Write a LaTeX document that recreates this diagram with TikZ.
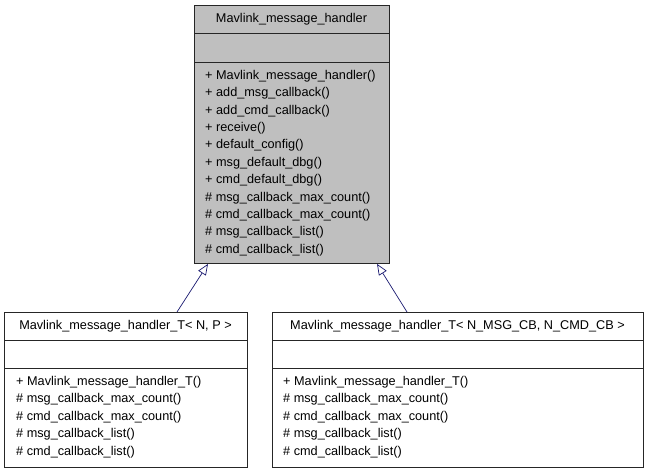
\documentclass[tikz,border=0pt]{standalone}
\usepackage{fontspec}
\setmainfont{Liberation Sans}
\usetikzlibrary{arrows.meta}
\definecolor{edgeblue}{HTML}{191970}
\definecolor{basefill}{HTML}{BFBFBF}
\begin{document}
\begin{tikzpicture}[x=1pt,y=-1pt,
  box/.style={draw=black!85, line width=0.9pt, inner sep=0, anchor=north west},
  sep/.style={draw=black!85, line width=0.9pt},
  lbl/.style={anchor=west, inner sep=0, font=\fontsize{12.7}{15}\selectfont},
  ttl/.style={inner sep=0, font=\fontsize{12.7}{15}\selectfont},
  inherit/.style={draw=edgeblue, line width=0.7pt, -{Triangle[open,length=11pt,width=9pt,fill=white]}}]
\useasboundingbox (0,0) rectangle (648,472);
% base class
\node (base) [box, fill=basefill, minimum width=195pt, minimum height=258pt] at (194,5) {};
\draw[sep] (base.west |- 0,33) -- (base.east |- 0,33);
\draw[sep] (base.west |- 0,62) -- (base.east |- 0,62);
\node (bt) [ttl] at (291.5,19) {Mavlink\_message\_handler};
\foreach \t [count=\i from 0] in {%
  {+ Mavlink\_message\_handler()},{+ add\_msg\_callback()},{+ add\_cmd\_callback()},
  {+ receive()},{+ default\_config()},{+ msg\_default\_dbg()},{+ cmd\_default\_dbg()},
  {\# msg\_callback\_max\_count()},{\# cmd\_callback\_max\_count()},
  {\# msg\_callback\_list()},{\# cmd\_callback\_list()}}
  \node (bm\i) [lbl] at (205,76+17.4*\i) {\t};
% left child
\node (c1) [box, fill=white, minimum width=243pt, minimum height=155pt] at (4,312) {};
\draw[sep] (c1.west |- 0,340) -- (c1.east |- 0,340);
\draw[sep] (c1.west |- 0,368) -- (c1.east |- 0,368);
\node (c1t) [ttl] at (125.5,326) {Mavlink\_message\_handler\_T< N, P >};
% right child
\node (c2) [box, fill=white, minimum width=371pt, minimum height=155pt] at (272,312) {};
\draw[sep] (c2.west |- 0,340) -- (c2.east |- 0,340);
\draw[sep] (c2.west |- 0,368) -- (c2.east |- 0,368);
\node (c2t) [ttl] at (457.5,326) {Mavlink\_message\_handler\_T< N\_MSG\_CB, N\_CMD\_CB >};
\foreach \t [count=\i from 0] in {%
  {+ Mavlink\_message\_handler\_T()},{\# msg\_callback\_max\_count()},{\# cmd\_callback\_max\_count()},
  {\# msg\_callback\_list()},{\# cmd\_callback\_list()}}{
  \node (c1m\i) [lbl] at (16,382+17.5*\i) {\t};
  \node (c2m\i) [lbl] at (283,382+17.5*\i) {\t};
}
% inheritance
\draw[inherit] (c1.north -| 177,0) -- (base.south -| 208,0);
\draw[inherit] (c2.north -| 407,0) -- (base.south -| 377,0);
\end{tikzpicture}
\end{document}
